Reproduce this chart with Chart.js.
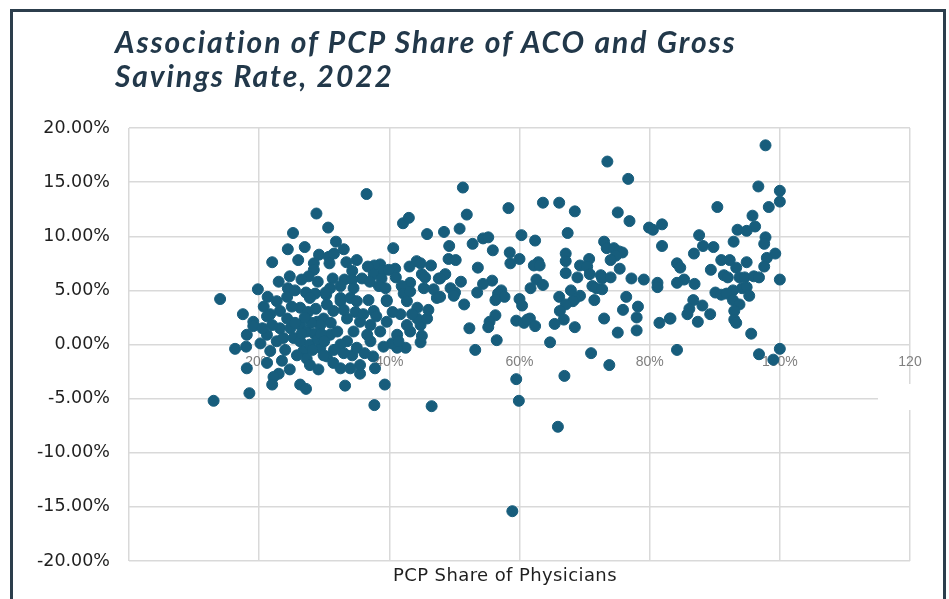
<!DOCTYPE html>
<html>
<head>
<meta charset="utf-8">
<script src="https://cdn.jsdelivr.net/npm/chart.js@4.4.1/dist/chart.umd.min.js"></script>
<style>
body{margin:0;background:#fff;}
#wrap{position:relative;width:949px;height:599px;overflow:hidden;background:#fff;}
#frame{position:absolute;left:10px;top:9px;width:930px;height:640px;border:3px solid #2c3e4c;}
#title{position:absolute;left:115px;top:24px;font:italic 700 30px Lato;letter-spacing:1.9px;color:#22384a;line-height:34px;}
#xtitle{position:absolute;left:305px;width:400px;top:564px;text-align:center;font:18px "DejaVu Sans";letter-spacing:0.4px;line-height:22px;color:#1f1f1f;}
#patch{position:absolute;left:878px;top:384px;width:40px;height:26px;background:#fff;}
canvas{position:absolute;left:0;top:0;}
</style>
</head>
<body>
<div id="wrap">
  <div id="frame"></div>
  <canvas id="scatterChart" width="949" height="599"></canvas>
  <div id="patch"></div>
  <div id="title">Association of PCP Share of ACO and Gross<br>Savings Rate, 2022</div>
  <div id="xtitle">PCP Share of Physicians</div>
</div>
<script>
// PCP share (%) , gross savings rate (%)

// ACOs with PCP share under ~48%
const lowShareAcos = [
  [28.8,12.1],[30.6,10.8],[25.2,10.3],[24.4,8.8],[22.0,7.6],[29.2,8.3],[28.4,7.5],[30.7,8.1],[28.4,6.9],[24.7,6.3],
  [27.6,6.3],[19.8,5.1],[24.4,5.2],[14.0,4.2],[21.3,4.4],[24.3,4.4],[27.2,4.8],[28.6,4.7],[30.3,4.6],[36.5,13.9],
  [42.1,11.2],[43.0,11.7],[45.8,10.2],[40.6,8.9],[33.0,8.8],[31.5,8.4],[33.4,7.6],[30.8,7.5],[44.2,7.7],[44.8,7.5],
  [46.4,7.3],[38.6,7.4],[37.7,7.3],[36.7,7.2],[43.1,7.2],[39.0,6.8],[40.9,7.0],[34.3,6.8],[39.9,6.9],[37.6,6.5],
  [38.8,6.1],[45.0,6.5],[45.5,6.2],[31.3,6.1],[35.8,6.1],[33.1,6.0],[34.3,6.0],[47.6,6.1],[43.2,5.7],[41.9,5.4],
  [38.4,5.4],[39.4,5.2],[34.5,5.2],[32.5,5.4],[30.9,5.2],[30.2,4.8],[45.3,5.2],[46.8,5.1],[42.2,4.7],[43.2,4.9],
  [36.8,4.1],[39.6,4.1],[32.5,4.3],[34.0,4.3],[20.7,3.5],[22.7,4.0],[26.3,3.4],[27.8,4.3],[21.7,2.8],[23.2,3.1],
  [24.3,2.4],[19.1,2.1],[19.1,1.7],[21.2,2.6],[18.1,0.9],[21.2,0.9],[23.2,1.5],[24.8,1.5],[26.3,1.8],[27.3,1.2],
  [28.9,2.1],[29.9,2.4],[20.2,0.1],[21.7,-0.6],[22.7,0.3],[23.7,0.6],[25.3,0.6],[26.3,0.3],[26.8,-0.6],[27.3,-1.3],
  [27.8,-1.9],[16.3,-0.4],[21.2,-1.7],[18.1,-2.2],[23.0,-2.7],[22.2,-3.0],[24.7,-2.3],[22.0,-3.7],[26.3,-3.7],[27.2,-4.1],
  [29.1,-2.3],[18.5,-4.5],[13.0,-5.2],[30.4,-1.1],[29.4,-0.3],[27.8,0.0],[33.2,-3.8],[39.3,-3.7],[35.5,-2.7],[37.8,-2.2],
  [37.5,-1.1],[35.5,-1.9],[32.5,-2.2],[31.4,-1.7],[29.9,-1.0],[34.3,-1.0],[44.8,0.2],[42.5,-0.3],[41.2,-0.3],[40.4,0.1],
  [39.1,-0.2],[37.1,0.3],[35.0,-0.3],[33.5,0.3],[32.5,0.0],[30.9,0.9],[34.5,1.2],[36.6,0.9],[38.6,1.2],[41.2,0.9],
  [43.2,1.2],[44.8,1.8],[44.3,2.4],[45.8,2.4],[44.3,3.4],[47.3,4.3],[42.7,4.0],[41.7,2.8],[39.6,2.1],[37.6,3.1],
  [35.5,2.1],[33.5,2.4],[31.4,3.1],[30.4,3.7],[32.5,4.0],[35.0,4.0],[39.6,4.0],[37.1,1.8],[42.7,1.8],[41.4,0.3],
  [29.4,1.8],[37.7,-5.6],[46.5,-5.7],[27.5,3.0],[28.0,2.0],[28.5,1.0],[29.0,0.5],[28.2,-0.5],[27.0,2.5],[26.5,1.0],
  [25.5,2.0],[25.0,3.5],[29.5,1.0],[28.7,3.3],[31.0,2.0],[32.0,1.2],[33.0,3.2],[34.8,3.0],[36.0,2.8],[38.0,2.6],
  [36.2,-0.8],[34.0,-2.2],[33.0,-0.8],[31.5,-0.5],[30.0,0.3],[24.0,-0.5],[23.5,-1.5],[25.8,-1.0],[20.5,1.5],[22.0,1.8],
  [17.5,2.8],[18.0,-0.2],[40.5,3.0],[43.5,2.8],[46.0,3.2],[45.0,0.8],[25.5,5.0],[23.0,5.8],[26.0,7.8],[27.0,9.0],
  [31.8,9.5],[35.0,7.8],[37.0,5.8],[41.0,6.2],[29.0,5.8],[26.5,6.0]
];

// ACOs with PCP share ~48% to ~83%
const midShareAcos = [
  [73.5,16.9],[76.7,15.3],[51.3,14.5],[58.3,12.6],[63.6,13.1],[66.1,13.1],[68.5,12.3],[51.9,12.0],[75.1,12.2],[76.9,11.4],
  [48.4,10.4],[50.8,10.7],[79.9,10.8],[80.5,10.6],[81.9,11.1],[60.3,10.1],[67.4,10.3],[54.4,9.8],[55.2,9.9],[62.4,9.6],
  [52.8,9.3],[49.2,9.1],[73.0,9.5],[73.4,8.9],[81.9,9.1],[55.9,8.7],[58.5,8.5],[67.1,8.4],[74.5,8.9],[75.3,8.6],
  [75.8,8.5],[74.8,8.2],[74.0,7.8],[49.1,7.9],[50.2,7.8],[60.0,7.9],[67.1,7.7],[70.7,7.9],[58.6,7.5],[62.9,7.6],
  [62.2,7.3],[63.1,7.3],[69.3,7.3],[70.4,7.2],[53.6,7.1],[75.4,7.0],[67.1,6.6],[70.8,6.5],[48.6,6.5],[47.8,6.1],
  [68.9,6.2],[72.5,6.4],[72.7,6.1],[74.0,6.2],[77.2,6.1],[79.1,6.0],[62.6,6.0],[55.8,5.9],[51.0,5.8],[63.6,5.5],
  [54.4,5.6],[81.2,5.7],[81.2,5.3],[71.2,5.4],[71.8,5.2],[72.7,5.1],[49.4,5.2],[50.1,4.8],[49.9,4.5],[53.5,4.8],
  [57.2,5.0],[56.7,4.7],[57.7,4.4],[61.7,5.2],[67.9,5.0],[47.8,4.4],[66.1,4.4],[69.3,4.5],[68.5,4.2],[68.2,4.0],
  [76.4,4.4],[60.0,4.2],[56.3,4.1],[71.5,4.1],[51.5,3.7],[60.4,3.6],[67.1,3.7],[78.2,3.5],[66.2,3.1],[75.9,3.2],
  [56.3,2.7],[78.0,2.5],[73.0,2.4],[83.1,2.4],[59.5,2.2],[60.7,2.0],[61.6,2.4],[61.2,2.3],[66.8,2.3],[55.4,2.1],
  [55.2,1.6],[81.5,2.0],[62.4,1.7],[65.4,1.9],[68.5,1.6],[52.3,1.5],[78.0,1.3],[75.1,1.1],[56.5,0.4],[64.7,0.2],
  [53.2,-0.5],[71.0,-0.8],[73.8,-1.9],[59.5,-3.2],[66.9,-2.9],[59.9,-5.2],[65.9,-7.6],[58.9,-15.4]
];

// ACOs with PCP share above ~83%
const highShareAcos = [
  [97.8,18.4],[96.7,14.6],[100,14.2],[100,13.2],[90.4,12.7],[98.3,12.7],[95.8,11.9],[96.2,10.9],[93.5,10.6],[94.9,10.5],
  [87.6,10.1],[97.8,9.9],[97.6,9.3],[92.9,9.5],[88.2,9.1],[89.8,9.0],[99.3,8.4],[86.8,8.4],[98.0,8.0],[91.0,7.8],
  [92.3,7.8],[94.9,7.6],[84.2,7.5],[84.7,7.1],[93.3,7.1],[97.6,7.2],[89.4,6.9],[91.4,6.4],[92.0,6.2],[85.3,6.0],
  [93.8,6.2],[94.6,6.2],[96.0,6.3],[96.8,6.2],[100,6.0],[84.2,5.7],[86.9,5.6],[94.2,5.2],[94.9,5.3],[92.8,5.0],
  [90.1,4.8],[91.0,4.6],[91.8,4.7],[95.3,4.5],[86.7,4.1],[92.8,4.1],[88.1,3.6],[93.8,3.7],[86.1,3.3],[85.8,2.8],
  [89.3,2.8],[93.0,3.1],[83.2,2.4],[87.4,2.1],[93.0,2.3],[93.3,2.0],[95.6,1.0],[84.2,-0.5],[96.8,-0.9],[100,-0.4],
  [99.0,-1.4]
];

const xTicks = [0, 20, 40, 60, 80, 100, 120];
const yTicks = [-20, -15, -10, -5, 0, 5, 10, 15, 20];

const allPoints = lowShareAcos.concat(midShareAcos, highShareAcos).map(p => ({x: p[0], y: p[1]}));

const ctx = document.getElementById('scatterChart').getContext('2d');
const scatterChart = new Chart(ctx, {
  type: 'scatter',
  data: {
    datasets: [{
      data: allPoints,
      backgroundColor: '#175d7c',
      borderColor: '#175d7c',
      pointRadius: 5.5,
      pointHoverRadius: 5.5
    }]
  },
  options: {
    responsive: false,
    animation: false,
    layout: { padding: { left: 0, top: 128, right: 39, bottom: 38 } },
    plugins: { legend: { display: false }, tooltip: { enabled: false } },
    scales: {
      x: {
        type: 'linear', position: 'bottom',
        min: xTicks[0], max: xTicks[xTicks.length - 1],
        ticks: { display: false, stepSize: 20 },
        grid: { color: '#d9d9d9', lineWidth: 1.5, drawTicks: false },
        border: { display: false },
        afterFit: s => { s.height = 0; }
      },
      // tick labels sit on the zero line
      x2: {
        type: 'linear', axis: 'x', position: { y: 0 },
        min: xTicks[0], max: xTicks[xTicks.length - 1],
        ticks: {
          stepSize: 20, color: '#7f7f7f', padding: 1,
          font: { family: 'Liberation Sans', size: 14 },
          callback: v => v === 0 ? '' : (v === 120 ? '120' : v + '%')
        },
        grid: { display: false },
        border: { display: false }
      },
      y: {
        min: yTicks[0], max: yTicks[yTicks.length - 1],
        ticks: {
          stepSize: 5, padding: 19, color: '#1f1f1f',
          font: { family: 'DejaVu Sans', size: 17.5 },
          callback: v => v.toFixed(2) + '%'
        },
        grid: { color: '#d9d9d9', lineWidth: 1.5, drawTicks: false },
        border: { display: false },
        afterFit: s => { s.width = 129; }
      }
    }
  }
});
</script>
</body>
</html>
